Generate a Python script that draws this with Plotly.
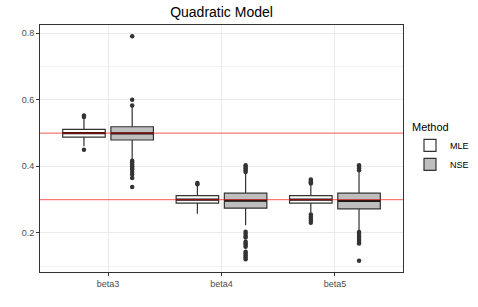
import plotly.graph_objects as go

categories = ["beta3", "beta4", "beta5"]
methods = ["MLE", "NSE"]
true_values = [0.5, 0.3]

# precomputed box statistics per method, per category
q1 = {"MLE": [0.488, 0.289, 0.289], "NSE": [0.479, 0.274, 0.272]}
median = {"MLE": [0.500, 0.300, 0.300], "NSE": [0.499, 0.297, 0.296]}
q3 = {"MLE": [0.511, 0.312, 0.312], "NSE": [0.519, 0.319, 0.319]}
lower_fence = {"MLE": [0.460, 0.257, 0.260], "NSE": [0.420, 0.223, 0.205]}
upper_fence = {"MLE": [0.543, 0.341, 0.343], "NSE": [0.578, 0.378, 0.383]}
outliers = {
    "MLE": [
        [0.548, 0.553, 0.450],
        [0.346, 0.350],
        [0.348, 0.352, 0.356, 0.360, 0.255, 0.248, 0.242, 0.236, 0.230],
    ],
    "NSE": [
        [0.583, 0.600, 0.791, 0.417, 0.412, 0.405, 0.400, 0.395, 0.390,
         0.383, 0.375, 0.365, 0.338],
        [0.383, 0.388, 0.393, 0.398, 0.403, 0.203, 0.197, 0.190, 0.186,
         0.173, 0.168, 0.163, 0.158, 0.143, 0.138, 0.132, 0.126, 0.120],
        [0.388, 0.393, 0.398, 0.403, 0.202, 0.197, 0.190, 0.184, 0.178,
         0.172, 0.168, 0.116],
    ],
}

fills = {"MLE": "#FFFFFF", "NSE": "#BEBEBE"}
offsets = {"MLE": -0.2125, "NSE": 0.2125}
BOX_W = 0.375
LINE = "#333333"

fig = go.Figure()

for m in methods:
    pos = [i + offsets[m] for i in range(len(categories))]
    fig.add_trace(go.Box(
        x=pos, q1=q1[m], median=median[m], q3=q3[m],
        lowerfence=lower_fence[m], upperfence=upper_fence[m],
        width=BOX_W, whiskerwidth=0, boxpoints=False,
        fillcolor=fills[m], line=dict(color=LINE, width=1.2),
        name=m, legendgroup=m, showlegend=True,
    ))
    # thicker median lines (ggplot style)
    mx, my = [], []
    for p, md in zip(pos, median[m]):
        mx += [p - BOX_W / 2, p + BOX_W / 2, None]
        my += [md, md, None]
    fig.add_trace(go.Scatter(
        x=mx, y=my, mode="lines", line=dict(color="#1a1a1a", width=2.2),
        showlegend=False, hoverinfo="skip", legendgroup=m,
    ))
    # outliers
    ox, oy = [], []
    for p, outs in zip(pos, outliers[m]):
        ox += [p] * len(outs)
        oy += outs
    fig.add_trace(go.Scatter(
        x=ox, y=oy, mode="markers",
        marker=dict(color=LINE, size=4.5),
        showlegend=False, hoverinfo="skip", legendgroup=m,
    ))

for v in true_values:
    fig.add_hline(y=v, line=dict(color="rgba(255,0,0,0.5)", width=1.2), layer="above")

fig.update_layout(
    width=478, height=307,
    margin=dict(l=40, r=75, t=25, b=35, autoexpand=False),
    paper_bgcolor="white", plot_bgcolor="white",
    font=dict(family="Liberation Sans, Arial, sans-serif", size=9, color="#4D4D4D"),
    title=dict(text="Quadratic Model", x=0.5, xref="paper", xanchor="center",
               y=1 - 12 / 307, yref="container", yanchor="middle",
               font=dict(size=14, color="black")),
    showlegend=True,
    legend=dict(
        title=dict(text="Method", font=dict(size=11, color="black")),
        xref="container", x=410 / 478, xanchor="left",
        yref="container", y=1 - 148 / 307, yanchor="middle",
        font=dict(size=9, color="black"),
        bgcolor="rgba(0,0,0,0)", tracegroupgap=0,
    ),
    xaxis=dict(
        range=[-0.6, 2.6], tickmode="array", tickvals=list(range(len(categories))),
        ticktext=categories, showgrid=True, gridcolor="#EBEBEB", gridwidth=1,
        zeroline=False, showline=True, mirror=True, linecolor=LINE, linewidth=1,
        ticks="outside", ticklen=3, tickcolor=LINE, tickfont=dict(size=9, color="#4D4D4D"),
    ),
    yaxis=dict(
        range=[0.082, 0.825], tick0=0, dtick=0.2, tickformat=".1f",
        showgrid=True, gridcolor="#EBEBEB", gridwidth=1,
        minor=dict(dtick=0.1, tick0=0, showgrid=True, gridcolor="#F3F3F3", gridwidth=0.6),
        zeroline=False, showline=True, mirror=True, linecolor=LINE, linewidth=1,
        ticks="outside", ticklen=3, tickcolor=LINE, tickfont=dict(size=9, color="#4D4D4D"),
    ),
    hovermode=False,
)

fig.write_html("out.html", config={"displayModeBar": False},
               post_script="document.body.style.margin='0';document.body.style.padding='0';")
